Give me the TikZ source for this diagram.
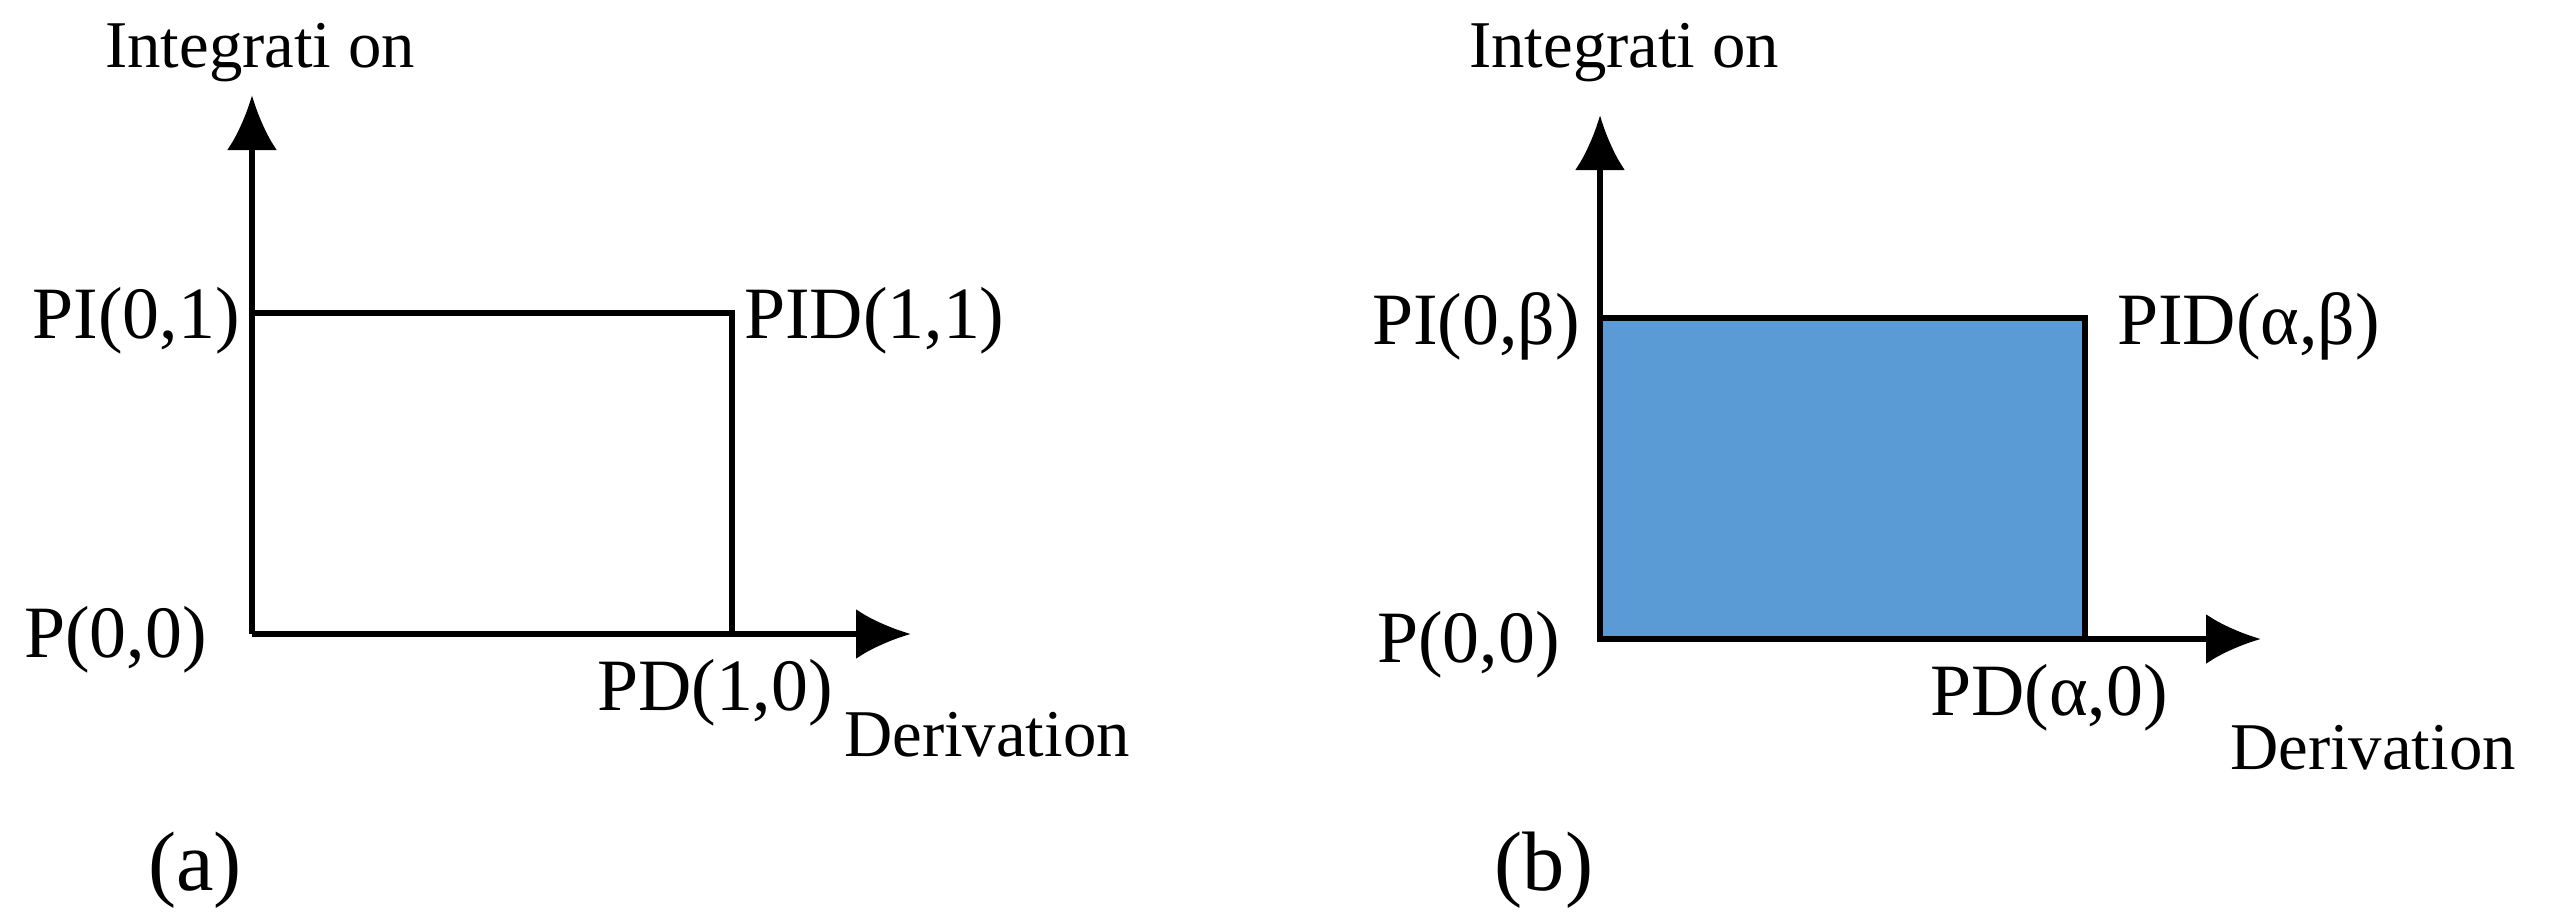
\documentclass[tikz,border=0pt]{standalone}
\usepackage{fontspec}
\setmainfont{Liberation Serif}
\usetikzlibrary{arrows.meta}
\definecolor{boxfill}{HTML}{5B9BD5}
\tikzset{>={Latex[length=0.55cm,width=0.5cm]}}
\tikzset{axis/.style = {line width = 1.8pt, ->},
	edge/.style = {line width = 1.8pt},
	lbl/.style = {font = \fontsize{21}{24}\selectfont, inner sep = 1pt},
	axlbl/.style = {font = \fontsize{19}{22}\selectfont, inner sep = 1pt},
	tag/.style = {font = \fontsize{24}{28}\selectfont}}

\begin{document}
\begin{tikzpicture}
\useasboundingbox (0,0) rectangle (25.49,9.11);

% panel (a)
\coordinate (oa) at (2.52,2.77);
\coordinate (ya) at (2.52,8.16);
\coordinate (xa) at (9.11,2.77);
\coordinate (ta) at (2.52,5.98);
\coordinate (ra) at (7.32,5.98);
\coordinate (ba) at (7.32,2.77);
\draw[edge] (ta) -- (ra) -- (ba);
\draw[axis] (oa) -- (ya);
\draw[axis] (oa) -- (xa);
\node[axlbl] (inta) at (2.60,8.58) {Integrati on};
\node[lbl, anchor = east] (pia) at (2.44,5.90) {PI(0,1)};
\node[lbl, anchor = west] (pida) at (7.40,5.90) {PID(1,1)};
\node[lbl, anchor = east] (pa) at (2.11,2.71) {P(0,0)};
\node[lbl] (pda) at (7.15,2.18) {PD(1,0)};
\node[axlbl] (dera) at (9.87,1.76) {Derivation};
\node[tag] (capa) at (1.95,0.41) {(a)};

% panel (b)
\coordinate (ob) at (16.00,2.72);
\coordinate (yb) at (16.00,7.96);
\coordinate (xb) at (22.61,2.72);
\coordinate (rb) at (20.85,5.93);
\draw[edge, fill = boxfill] (ob) rectangle (rb);
\draw[axis] (ob) -- (yb);
\draw[axis] (ob) -- (xb);
\node[axlbl] (intb) at (16.24,8.58) {Integrati on};
\node[lbl, anchor = east] (pib) at (15.84,5.85) {PI(0,β)};
\node[lbl, anchor = west] (pidb) at (21.13,5.85) {PID(α,β)};
\node[lbl, anchor = east] (pb) at (15.64,2.66) {P(0,0)};
\node[lbl] (pdb) at (20.49,2.13) {PD(α,0)};
\node[axlbl] (derb) at (23.73,1.63) {Derivation};
\node[tag] (capb) at (15.44,0.41) {(b)};
\end{tikzpicture}
\end{document}
